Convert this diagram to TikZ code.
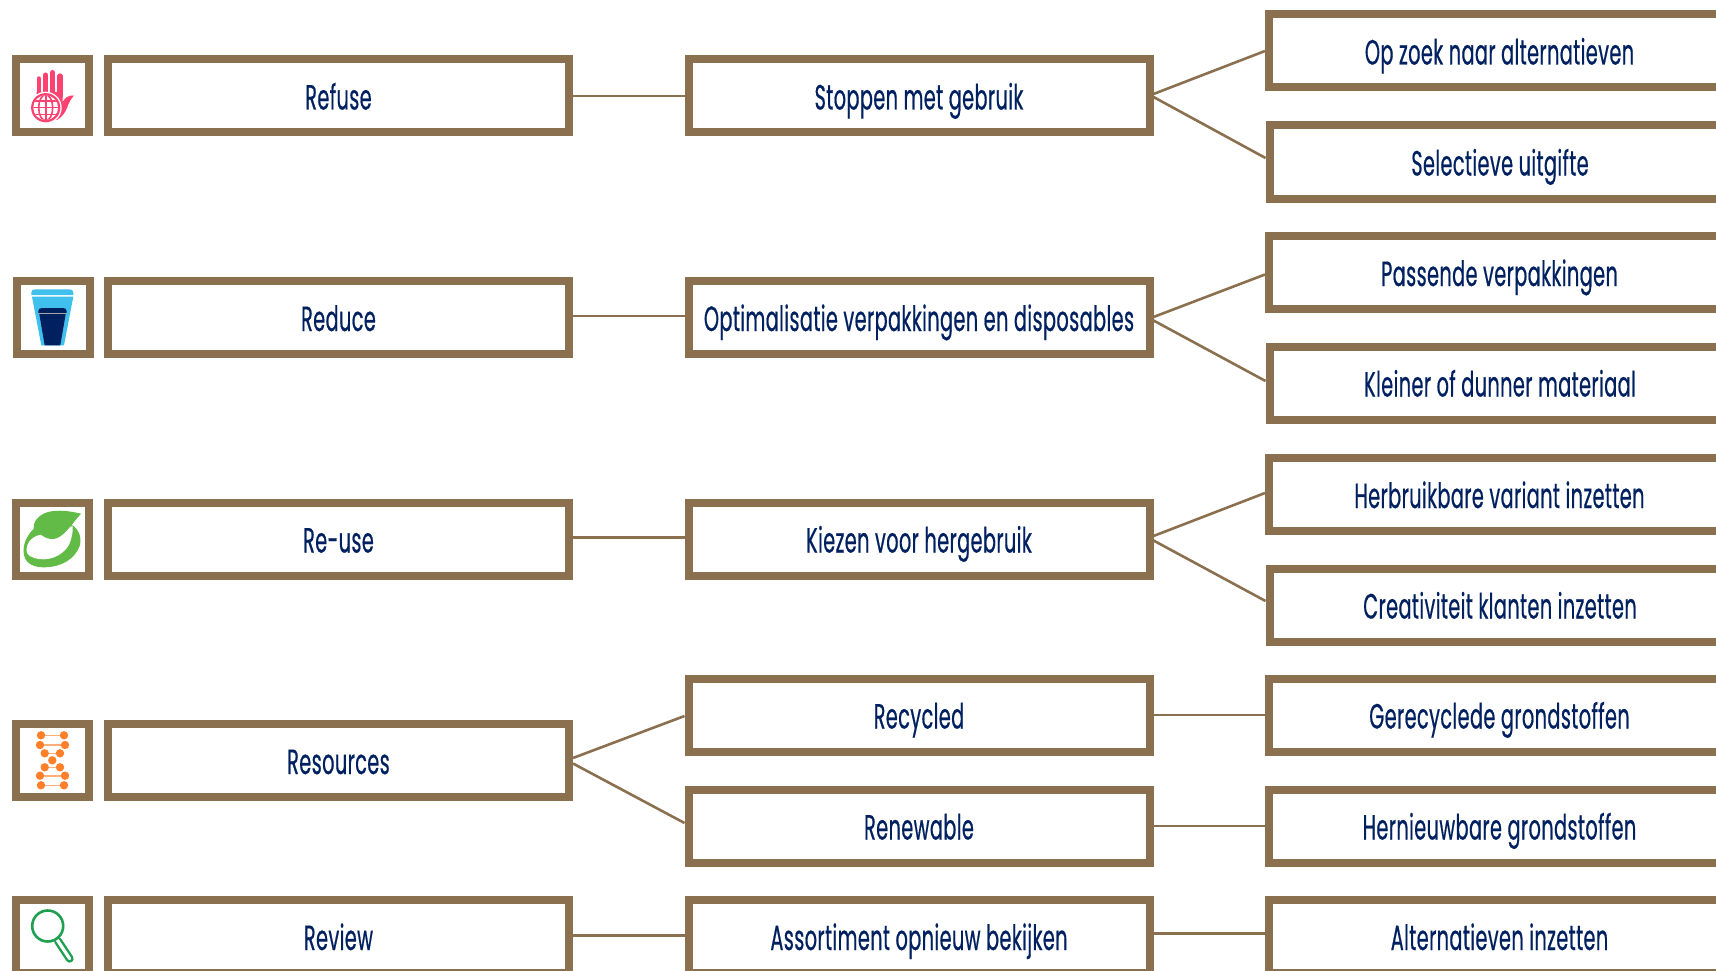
\documentclass[tikz,border=0pt]{standalone}
\usepackage{fontspec}
\setmainfont[FakeStretch=0.55,LetterSpace=1.2,FakeBold=0.5]{Poppins}
\definecolor{frame}{HTML}{8B7050}
\definecolor{navy}{HTML}{002060}
\definecolor{hand}{HTML}{FB4270}
\definecolor{cupl}{HTML}{40C0EC}
\definecolor{leaf}{HTML}{62BB46}
\definecolor{dna}{HTML}{FF7F2A}
\definecolor{dnal}{HTML}{FFB07A}
\definecolor{glass}{HTML}{1FA050}
\tikzset{
  labelbox/.style={draw=frame,line width=8pt,fill=white,minimum width=461pt,minimum height=73pt,inner sep=0pt,text=navy,font=\fontsize{35}{38}\selectfont,text height=30pt,text depth=3pt,anchor=center},
  iconbox/.style={draw=frame,line width=8pt,fill=white,minimum width=73pt,minimum height=73pt,inner sep=0pt,anchor=center},
  link/.style={draw=frame,line width=2.6pt},
  dnabar/.style={draw=dnal,line width=1.6pt},
  dnadot/.style={fill=dna}
}
\begin{document}
\begin{tikzpicture}[x=1pt,y=-1pt]
\useasboundingbox (0,0) rectangle (1716,971);
\clip (0,0) rectangle (1716,971);
\node[iconbox] (i1) at (52.5,96) {};
\node[iconbox] (i2) at (53,317.5) {};
\node[iconbox] (i3) at (52.5,539) {};
\node[iconbox] (i4) at (52.5,760.5) {};
\node[iconbox] (i5) at (52.5,936.5) {};
% column 1
\node[labelbox] (a1) at (338.5,96) {Refuse};
\node[labelbox] (a2) at (338.5,317.5) {Reduce};
\node[labelbox] (a3) at (338.5,539) {Re-use};
\node[labelbox] (a4) at (338.5,760.5) {Resources};
\node[labelbox] (a5) at (338.5,936.5) {Review};
% column 2
\node[labelbox] (b1) at (919,96) {Stoppen met gebruik};
\node[labelbox] (b2) at (919,317.5) {Optimalisatie verpakkingen en disposables};
\node[labelbox] (b3) at (919,539) {Kiezen voor hergebruik};
\node[labelbox] (b4) at (919,715) {Recycled};
\node[labelbox] (b5) at (919,826) {Renewable};
\node[labelbox] (b6) at (919,936.5) {Assortiment opnieuw bekijken};
% column 3
\node[labelbox] (c1) at (1499.5,51) {Op zoek naar alternatieven};
\node[labelbox] (c2) at (1500,162) {Selectieve uitgifte};
\node[labelbox] (c3) at (1499.5,272.5) {Passende verpakkingen};
\node[labelbox] (c4) at (1500,383) {Kleiner of dunner materiaal};
\node[labelbox] (c5) at (1499.5,494.5) {Herbruikbare variant inzetten};
\node[labelbox] (c6) at (1500,605) {Creativiteit klanten inzetten};
\node[labelbox] (c7) at (1499.5,715) {Gerecyclede grondstoffen};
\node[labelbox] (c8) at (1499.5,826) {Hernieuwbare grondstoffen};
\node[labelbox] (c9) at (1499.5,936.5) {Alternatieven inzetten};
% connectors
\draw[link] (a1.east) -- (b1.west);
\draw[link] ([yshift=1.5pt]a2.east) -- ([yshift=1.5pt]b2.west);
\draw[link] ([yshift=1.5pt]a3.east) -- ([yshift=1.5pt]b3.west);
\draw[link] ([yshift=2.5pt]a4.east) -- ([yshift=-1pt]b4.west);
\draw[link] ([yshift=-3pt]a4.east) -- ([yshift=3pt]b5.west);
\draw[link] ([yshift=1pt]a5.east) -- ([yshift=1pt]b6.west);
\draw[link] ([yshift=2pt]b1.east) -- (c1.west);
\draw[link] ([yshift=-1pt]b1.east) -- ([yshift=4pt]c2.west);
\draw[link] ([yshift=0.5pt]b2.east) -- ([yshift=-2pt]c3.west);
\draw[link] ([yshift=-3pt]b2.east) -- ([yshift=2pt]c4.west);
\draw[link] ([yshift=3pt]b3.east) -- ([yshift=1.5pt]c5.west);
\draw[link] ([yshift=-1.5pt]b3.east) -- ([yshift=4pt]c6.west);
\draw[link] (b4.east) -- (c7.west);
\draw[link] (b5.east) -- (c8.west);
\draw[link] ([yshift=3pt]b6.east) -- ([yshift=3pt]c9.west);
% hand icon
\begin{scope}[line cap=round]
\draw[hand,line width=4.4pt] (38.7,78.5) -- (38.7,96);
\draw[hand,line width=5pt] (45.8,75) -- (45.8,96);
\draw[hand,line width=5pt] (52.5,72.5) -- (52.5,96);
\draw[hand,line width=5.2pt] (60,76) -- (60,96);
\end{scope}
\fill[hand] (36.5,92) -- (62.7,92) -- (62.7,102) .. controls (65,98) and (68,95) .. (74,95.5) .. controls (71,99) and (69,102) .. (67,108) .. controls (65,113) and (62,117) .. (57,120) -- (40,120) -- cycle;
\fill[white] (45.7,107.7) circle (16);
\fill[hand] (45.7,107.7) circle (14.6);
\begin{scope}
\clip (45.7,107.7) circle (12.4);
\fill[white] (45.7,107.7) circle (12.4);
\draw[hand,line width=1.6pt] (30,101) -- (60,101) (30,107.7) -- (60,107.7) (30,114.5) -- (60,114.5) (45.7,90) -- (45.7,125);
\draw[hand,line width=1.6pt] (45.7,107.7) ellipse (7 and 13);
\end{scope}
% cup icon
\fill[cupl] (31.3,295) -- (31.3,292.5) .. controls (31.3,290.5) and (33,289.3) .. (35,289.3) -- (69.5,289.3) .. controls (71.5,289.3) and (73.3,290.5) .. (73.3,292.5) -- (73.3,295) -- cycle;
\fill[cupl] (32,296.7) -- (73.3,296.7) -- (64,345.3) -- (41.3,345.3) -- cycle;
\fill[navy] (38.3,313) -- (38.3,311) .. controls (38.3,309) and (40,308) .. (42,308) -- (63,308) .. controls (65,308) and (66.7,309) .. (66.7,311) -- (66.7,313) -- cycle;
\fill[navy] (39.3,314) -- (65.7,314) -- (60.3,345.3) -- (44.7,345.3) -- cycle;
\fill[gray!70!white] (38.3,312.6) rectangle (66.7,314);
% leaf icon
\fill[leaf] (34.3,528.3) .. controls (27,535) and (22,545) .. (24,555) .. controls (26,565) and (36,567.5) .. (45,567.3) .. controls (60,567) and (75,560) .. (80,545) .. controls (81.5,537) and (79,529) .. (72,525) -- cycle;
\fill[white] (39.5,535) .. controls (30,537) and (25,546) .. (27,553) .. controls (30,558) and (38,559.5) .. (44,559.3) .. controls (55,559) and (64,553) .. (69,545) .. controls (72,538) and (73,532) .. (72.7,526) -- cycle;
\fill[leaf] (81,513.7) .. controls (70,511) and (58,509.5) .. (48,512) .. controls (38,515) and (33,522) .. (33.5,529) .. controls (37,533) and (38,534) .. (40,534) .. controls (44,537) and (48,539.5) .. (54,539) .. controls (64,537) and (70,526) .. (81,513.7) -- cycle;
% DNA icon
\draw[dnabar] (41,735.3) -- (64,735.3);
\draw[dnabar] (40,745) -- (65,745);
\draw[dnabar] (44.7,753.3) -- (60,753.3);
\draw[dnabar] (44.7,767.3) -- (60,767.3);
\draw[dnabar] (40,775.7) -- (65,775.7);
\draw[dnabar] (41,785.3) -- (64,785.3);
\fill[dnadot] (41,735.3) circle (4.2) (64,735.3) circle (4.2);
\fill[dnadot] (40,745) circle (4.2) (65,745) circle (4.2);
\fill[dnadot] (44.7,753.3) circle (4.2) (60,753.3) circle (4.2);
\fill[dnadot] (52.3,760.3) circle (4.2);
\fill[dnadot] (44.7,767.3) circle (4.2) (60,767.3) circle (4.2);
\fill[dnadot] (40,775.7) circle (4.2) (65,775.7) circle (4.2);
\fill[dnadot] (41,785.3) circle (4.2) (64,785.3) circle (4.2);
% magnifier icon
\draw[glass,line width=8pt,line cap=round] (58,941) -- (69.7,958.7);
\draw[white,line width=3.2pt,line cap=round] (57,939.5) -- (69.7,958.7);
\draw[glass,line width=2.6pt] (47.7,926) circle (15.5);
\end{tikzpicture}
\end{document}
